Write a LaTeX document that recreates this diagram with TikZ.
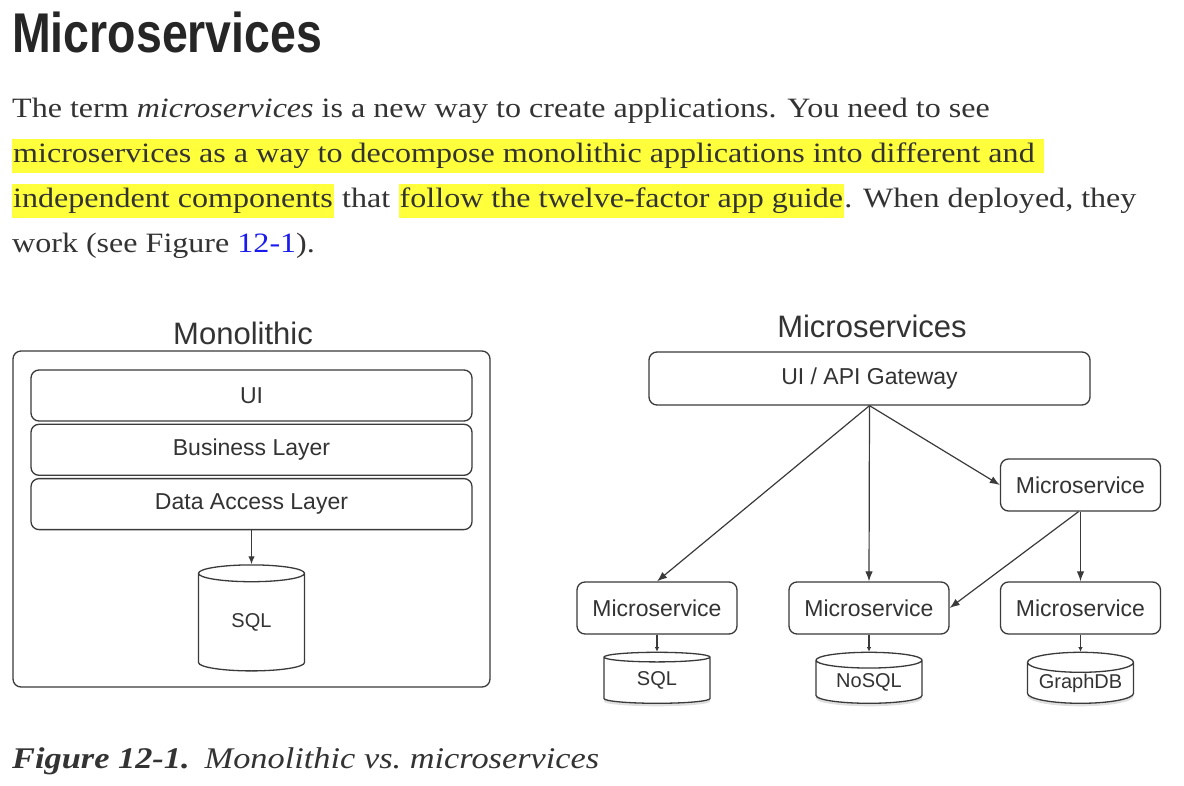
\documentclass[tikz,border=0pt]{standalone}
\usepackage{fontspec}
\setmainfont{Liberation Serif}
\setsansfont{Liberation Sans}
\newfontfamily\headfont[FakeStretch=0.83]{Liberation Sans}
\newfontfamily\bodyfont[FakeStretch=1.145]{Liberation Serif}
\usepackage{tikz}
\usetikzlibrary{arrows.meta,shapes.geometric,positioning,shadows}
\definecolor{ink}{HTML}{333333}
\definecolor{headink}{HTML}{262626}
\definecolor{edge}{HTML}{3A3A3A}
\definecolor{hlyellow}{HTML}{FFFF3C}
\definecolor{linkblue}{HTML}{1A1AF0}

\begin{document}
\begin{tikzpicture}[
			x=1pt, y=-1pt,
			para/.style  = {inner sep=0pt, text=ink, font=\bodyfont\fontsize{28}{32}\selectfont},
			hl/.style    = {para, fill=hlyellow, inner xsep=1pt, text height=24pt, text depth=10pt},
			title/.style = {inner sep=0pt, text=ink, font=\sffamily\fontsize{31}{34}\selectfont},
			box/.style   = {draw=edge, line width=1.3pt, rounded corners=8pt, inner sep=0pt, text=ink, font=\sffamily\fontsize{23}{26}\selectfont},
			layer/.style = {box, minimum width=441pt, minimum height=51pt},
			svc/.style   = {box, minimum width=160pt, minimum height=52pt},
			db/.style    = {draw=edge, line width=1.3pt, cylinder, shape border rotate=90, inner sep=0pt, fill=white, text=ink, font=\sffamily\fontsize{20}{22}\selectfont},
			dbs/.style   = {db, aspect=0.24, minimum width=106pt, minimum height=51pt, drop shadow={opacity=0.25, shadow xshift=0pt, shadow yshift=-3pt}},
			>={Latex[length=10pt,width=7.5pt]}]
			
			\useasboundingbox[fill=white] (0,0) rectangle (1184,786);
			
			% heading and text
			\node[anchor=base west, inner sep=0pt, text=headink, font=\headfont\bfseries\fontsize{56}{60}\selectfont] (head) at (12,53) {Microservices};
			
			\node[para, anchor=base west] (p1) at (12,118) {The term \textit{microservices} is a new way to create applications. You need to see};
			\node[hl, anchor=base west] (p2) at (12,163) {microservices as a way to decompose monolithic applications into different and\ \null};
			\node[hl, anchor=base west] (p3a) at (12,208) {independent components};
			\node[para, anchor=base west] (p3b) at (p3a.base east) {\ that\ \null};
			\node[hl, anchor=base west] (p3c) at (p3b.base east) {follow the twelve-factor app guide};
			\node[para, anchor=base west] (p3d) at (p3c.base east) {. When deployed, they};
			\node[para, anchor=base west] (p4) at (12,253) {work (see Figure \textcolor{linkblue}{12-1}).};
			
			% monolithic
			\node[title, anchor=base] (monot) at (243,345) {Monolithic};
			\node[box, minimum width=477pt, minimum height=336pt] (mono) at (251.5,519) {};
			\node[layer] (ui) at (251.5,395.5) {UI};
			\node[layer, below=2pt of ui] (biz) {Business Layer};
			\node[layer, below=2pt of biz] (dal) {Data Access Layer};
			\node[db, aspect=0.42, minimum width=106pt, minimum height=106pt, below=34pt of dal] (sqlm) {SQL};
			\draw[->, edge, line width=1.2pt, >={Latex[length=8pt,width=6.5pt]}] (dal) -- (sqlm);
			
			% microservices
			\node[title, anchor=base] (microt) at (872,338) {Microservices};
			\node[box, minimum width=441pt, minimum height=53pt] (gw) at (869.5,378.5) {UI / API Gateway};
			\node[svc] (ms4) at (1080.5,485) {Microservice};
			\node[svc] (ms1) at (657,608) {Microservice};
			\node[svc] (ms2) at (869,608) {Microservice};
			\node[svc] (ms3) at (1080.5,608) {Microservice};
			
			\node[dbs, below=17pt of ms1] (db1) {SQL};
			\node[dbs, below=17pt of ms2] (db2) {NoSQL};
			\node[dbs, below=17pt of ms3] (db3) {GraphDB};
			
			\begin{scope}[edge, line width=1.2pt]
				\draw[->] (gw.south) -- (ms1.north);
				\draw[->] (gw.south) -- (ms2.north);
				\draw[->] (gw.south) -- (ms4.west);
				\draw[->] (ms4.south) -- (ms3.north);
				\draw[->] ([xshift=-2pt]ms4.south) -- (ms2.east);
				\foreach \value in {1,...,3}
				\draw[->, >={Latex[length=4.5pt,width=4.5pt]}] (ms\value) -- (db\value);
			\end{scope}
			
			% caption
			\node[anchor=base west, inner sep=0pt, text=ink, font=\bodyfont\fontsize{30}{32}\selectfont\itshape] (cap) at (12,768) {\textbf{Figure 12-1.}\hspace{0.5em}Monolithic vs.\ microservices};
		\end{tikzpicture}
\end{document}
